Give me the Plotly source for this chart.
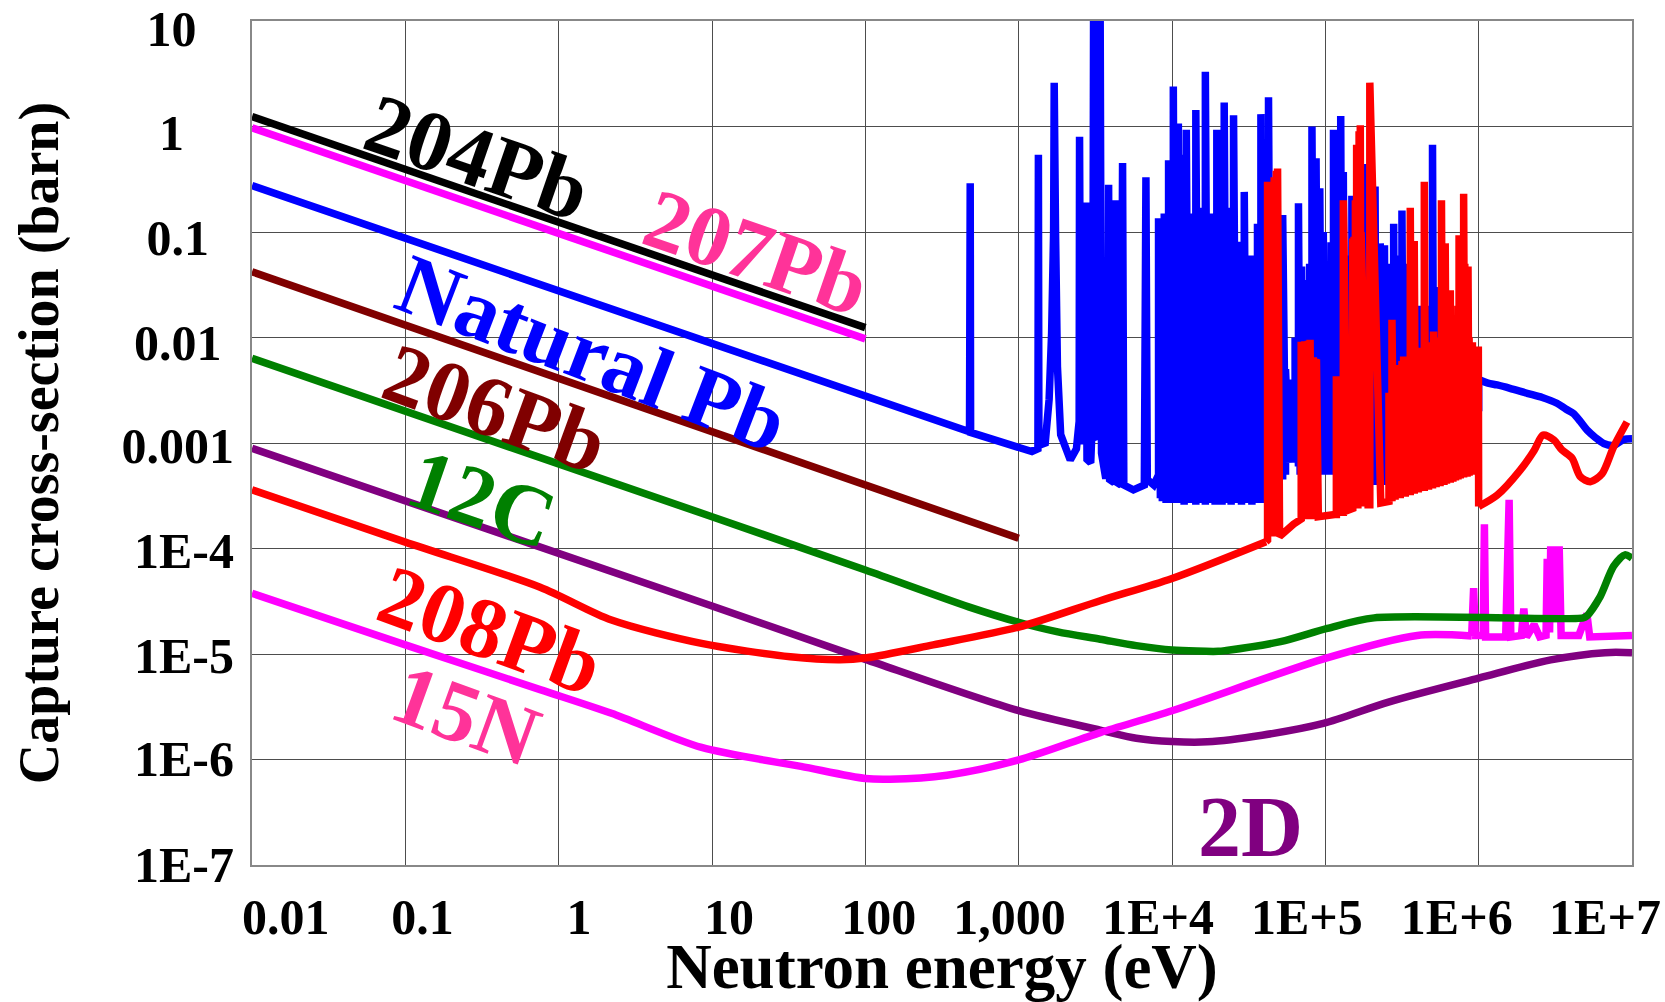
import plotly.graph_objects as go

# ---------------- data ----------------
# energies in eV, capture cross-sections in barn
pb204_E = [0.01, 100]
pb204_xs = [1.24, 0.0124]

pb207_E = [0.01, 100]
pb207_xs = [0.97, 0.0097]

pb206_E = [0.01, 1000]
pb206_xs = [0.042, 0.000125]

# natural Pb: 1/v part and isolated resonances
natpb_low = [
    (0.01, 0.275), (478, 0.00128),
    (483, 0.29), (486, 0.00126), (1220, 0.00083),
    (1335, 0.00088), (1345, 0.54), (1355, 0.00095),
    (1490, 0.0010), (1580, 0.0026), (1640, 0.011), (1690, 0.10), (1705, 2.6),
    (1740, 0.098), (1790, 0.0053), (1880, 0.0012), (2170, 0.00069), (2380, 0.00088),
    (2480, 0.0016), (2495, 0.80), (2540, 0.0012),
    (2680, 0.0010), (2740, 0.19), (2790, 0.0007),
    (2950, 0.00065), (3040, 0.002), (3080, 12), (3130, 0.0012), (3300, 0.0011),
    (3400, 12), (3470, 0.0008), (3700, 0.00046),
    (3820, 0.0006), (3860, 0.28), (3920, 0.00045),
    (4200, 0.00042), (4310, 0.20), (4400, 0.00042),
    (4650, 0.0004), (4760, 0.45), (4850, 0.0004), (5600, 0.00036),
    (6600, 0.0004), (6760, 0.33), (6900, 0.00045), (7600, 0.00040),
]
# natural Pb resonance forest: energy, peak, valley
natpb_forest_E = [
    8170, 8400, 8650, 8900, 9150, 9500, 9800, 10200, 10450, 10700, 11000, 11300,
    11600, 12000, 12400, 12800, 13200, 13700, 14300, 14800, 15300, 15900, 16500,
    17100, 17700, 18200, 18700, 19100, 19600, 20100, 20600, 21200, 21900, 22600,
    23400, 24300, 25200, 26200, 27200, 28400, 29600, 30600, 31600, 32400, 33200,
    34600, 36100, 37000, 38000, 38800, 39500, 41000, 42600, 44000,
    46000, 48000, 50000, 52700, 55000, 58000, 61000, 63500, 66800, 68500, 70000,
    71500, 73000, 75000, 77000, 79000, 81800, 84000, 87000, 89500, 92000, 94500,
    97000, 100000, 103000, 106000, 109000, 113000, 116000, 119000, 122000, 126000,
    128500, 131000, 134000, 137000, 140000, 143000, 146000, 149000, 152000, 156000,
    160000, 164000, 168000, 172000, 176000, 179000, 182000, 186000, 190000, 195000,
    200000, 205000, 211000, 215000, 220000, 224000, 228000, 232000, 237000, 243000,
    248000, 254000, 260000, 266000, 272000, 279000, 285000, 292000, 299000, 307000,
    316000, 323000, 330000, 340000, 350000, 360000, 368000, 376000, 385000, 395000,
    405000, 420000, 435000, 450000, 470000, 485000, 500000, 510000, 520000, 540000,
    560000, 580000, 600000, 620000, 640000, 660000, 690000, 720000, 750000, 780000,
    810000, 840000, 870000, 900000, 930000, 960000, 990000,
]
natpb_forest_peak = [
    0.135, 0.03, 0.02, 0.15, 0.04, 0.48, 0.05, 2.4, 0.06, 0.04, 1.07, 0.05,
    0.54, 0.06, 0.93, 0.05, 0.15, 0.04, 1.43, 0.06, 0.17, 0.05, 3.3,
    0.06, 0.15, 0.05, 0.12, 0.04, 0.93, 0.05, 0.14, 0.04, 1.69, 0.05,
    0.17, 0.04, 1.28, 0.05, 0.081, 0.03, 0.24, 0.02, 0.04, 0.02, 0.06,
    0.02, 0.12, 0.05, 1.31, 0.05, 0.2, 0.04, 1.89, 0.01,
    0.02, 0.01, 0.03, 0.145, 0.005, 0.003, 0.004, 0.01, 0.187, 0.03, 0.047,
    0.02, 0.035, 0.02, 0.03, 0.05, 1.0, 0.05, 0.5, 0.04, 0.26, 0.05,
    0.1, 0.03, 0.04, 0.05, 0.08, 0.93, 0.06, 0.1, 0.08, 1.26,
    0.1, 0.37, 0.05, 0.03, 0.04, 0.05, 0.06, 0.22, 0.04, 0.03,
    0.05, 0.03, 0.02, 0.04, 0.05, 0.1, 0.44, 0.05, 0.08, 0.05,
    0.03, 0.05, 0.27, 0.06, 0.04, 0.06, 0.078, 0.04, 0.05, 0.075,
    0.03, 0.02, 0.03, 0.04, 0.05, 0.12, 0.04, 0.03, 0.05, 0.06,
    0.16, 0.03, 0.02, 0.03, 0.05, 0.02, 0.01, 0.011, 0.012, 0.01,
    0.015, 0.02, 0.01, 0.008, 0.01, 0.02, 0.67, 0.02, 0.03, 0.01,
    0.01, 0.008, 0.01, 0.012, 0.02, 0.008, 0.006, 0.005, 0.005, 0.004,
    0.004, 0.005, 0.004, 0.003, 0.004, 0.003, 0.003,
]
natpb_forest_valley = [
    0.0005, 0.0003, 0.00028, 0.0003, 0.00027, 0.0003, 0.00028, 0.00027, 0.0003, 0.00028, 0.00027, 0.0003,
    0.00028, 0.00026, 0.00028, 0.0003, 0.00027, 0.00028, 0.00026, 0.0003, 0.00027, 0.00028, 0.00026,
    0.0003, 0.00027, 0.00028, 0.0003, 0.00026, 0.00028, 0.0003, 0.00027, 0.00026, 0.00028, 0.0003,
    0.00027, 0.00026, 0.00028, 0.0003, 0.00027, 0.00026, 0.00028, 0.0003, 0.00027, 0.00028, 0.00026,
    0.0003, 0.00027, 0.00028, 0.0003, 0.00027, 0.00028, 0.0003, 0.00028, 0.00035,
    0.00045, 0.0004, 0.0004, 0.00045, 0.0005, 0.00065, 0.0007, 0.00065, 0.0006, 0.0005, 0.0006,
    0.0005, 0.0006, 0.0005, 0.0005, 0.0006, 0.0005, 0.0006, 0.0005, 0.0006, 0.0005, 0.0006,
    0.0005, 0.0005, 0.0006, 0.0005, 0.0005, 0.0005, 0.0006, 0.0005, 0.0005, 0.0005,
    0.0006, 0.0005, 0.00045, 0.0005, 0.00045, 0.0005, 0.00045, 0.0005, 0.00045, 0.0005,
    0.00045, 0.0005, 0.00045, 0.0005, 0.00045, 0.0005, 0.00045, 0.0005, 0.00045, 0.0005,
    0.00045, 0.0004, 0.00045, 0.0004, 0.00042, 0.0004, 0.00045, 0.0004, 0.00042, 0.0004,
    0.00042, 0.0004, 0.00042, 0.0004, 0.00042, 0.0004, 0.00042, 0.0004, 0.00042, 0.0004,
    0.00042, 0.0004, 0.00042, 0.0004, 0.00042, 0.0004, 0.00042, 0.0004, 0.00042, 0.0004,
    0.00045, 0.0004, 0.00045, 0.0004, 0.00045, 0.0005, 0.00045, 0.0005, 0.00045, 0.0005,
    0.0005, 0.00055, 0.0005, 0.00055, 0.0005, 0.00055, 0.0006, 0.00055, 0.0006, 0.00055,
    0.0006, 0.00055, 0.0006, 0.0006, 0.00065, 0.0006, 0.0007,
]
natpb_high_E = [1.0e6, 1.15e6, 1.32e6, 1.6e6, 2.07e6, 2.6e6, 3.24e6, 3.7e6, 4.16e6,
                4.6e6, 5.08e6, 5.8e6, 6.53e6, 7.59e6, 8.83e6, 1.0e7]
natpb_high_xs = [0.0040, 0.0037, 0.00355, 0.0033, 0.00296, 0.0027, 0.00238, 0.0021, 0.0019,
                 0.0016, 0.00133, 0.00112, 0.00099, 0.00095, 0.00108, 0.0011]

# 208Pb
pb208_smooth_E = [0.01, 0.1, 0.757, 2.21, 8.55, 32.4, 68.5, 102, 277, 1000, 3400, 10000, 41000]
pb208_smooth_xs = [3.6e-4, 1.15e-4, 4.3e-5, 2.1e-5, 1.26e-5, 9.4e-6, 8.8e-6, 9.2e-6,
                   1.22e-5, 1.8e-5, 3.2e-5, 5.2e-5, 1.16e-4]
pb208_forest_E = [
    42000, 43400, 44900, 46400, 47900, 48800, 50300, 62000, 69600, 71500, 73500,
    75500, 77500, 79500, 81500, 83500, 85500, 87500, 90000, 115000, 118000, 128000,
    131000, 140000, 151000, 154000, 157000, 160000, 163000, 166000, 169000, 171000,
    190000, 195000, 230000, 260000, 272000, 280000, 285000, 292000, 300000, 308000,
    316000, 324000, 332000, 340000, 349000, 358000, 366000, 373000, 380000, 388000,
    396000, 404000, 413000, 422000, 431000, 442000, 451000, 461000, 471000, 481000,
    491000, 500000, 508000, 518000, 528000, 538000, 549000, 560000, 572000, 583000,
    594000, 605000, 617000, 629000, 641000, 653000, 666000, 679000, 692000, 706000,
    720000, 733000, 745000, 758000, 771000, 785000, 798000, 812000, 826000, 840000,
    852000, 866000, 880000, 895000, 910000, 925000, 940000, 955000, 970000, 985000,
    995000,
]
pb208_forest_peak = [
    0.30, 0.28, 0.30, 0.33, 0.38, 0.40, 1.3e-4, 1.7e-4, 0.0091, 0.009, 0.0092,
    0.009, 0.0093, 0.0095, 0.006, 0.0065, 0.0063, 0.0062, 2.0e-4, 2.1e-4, 0.0043, 2.2e-4,
    0.20, 2.3e-4, 0.087, 0.09, 0.2, 0.67, 0.6, 0.9, 1.03, 0.1,
    2.6e-4, 2.6, 2.7e-4, 0.003, 0.0147, 0.003, 0.0055, 0.004, 0.005, 0.004,
    0.006, 0.0066, 0.005, 0.005, 0.006, 0.17, 0.006, 0.006, 0.082, 0.007,
    0.008, 0.008, 0.007, 0.006, 0.008, 0.30, 0.008, 0.007, 0.006, 0.005,
    0.007, 0.009, 0.0114, 0.009, 0.007, 0.008, 0.009, 0.01, 0.20, 0.012,
    0.008, 0.078, 0.01, 0.012, 0.01, 0.028, 0.012, 0.01, 0.009, 0.011,
    0.012, 0.02, 0.093, 0.03, 0.012, 0.05, 0.23, 0.05, 0.02, 0.015,
    0.047, 0.01, 0.008, 0.008, 0.009, 0.0082, 0.007, 0.006, 0.007, 0.006,
    0.0082,
]
pb208_forest_valley = [
    1.2e-4, 1.3e-4, 1.3e-4, 1.3e-4, 1.3e-4, 1.3e-4, 1.3e-4, 1.7e-4, 1.9e-4, 1.9e-4, 1.9e-4,
    1.9e-4, 1.9e-4, 1.9e-4, 1.9e-4, 1.9e-4, 1.9e-4, 1.9e-4, 2.0e-4, 2.1e-4, 2.1e-4, 2.2e-4,
    2.2e-4, 2.3e-4, 2.4e-4, 2.4e-4, 2.4e-4, 2.4e-4, 2.4e-4, 2.5e-4, 2.5e-4, 2.5e-4,
    2.6e-4, 2.6e-4, 2.7e-4, 2.8e-4, 2.8e-4, 2.9e-4, 2.9e-4, 3.0e-4, 3.0e-4, 3.0e-4,
    3.1e-4, 3.1e-4, 3.1e-4, 3.2e-4, 3.2e-4, 3.2e-4, 3.3e-4, 3.3e-4, 3.3e-4, 3.4e-4,
    3.4e-4, 3.4e-4, 3.5e-4, 3.5e-4, 3.5e-4, 3.5e-4, 3.6e-4, 3.6e-4, 3.6e-4, 3.7e-4,
    3.7e-4, 3.7e-4, 3.8e-4, 3.8e-4, 3.8e-4, 3.9e-4, 3.9e-4, 3.9e-4, 4.0e-4, 4.0e-4,
    4.0e-4, 4.1e-4, 4.1e-4, 4.2e-4, 4.2e-4, 4.2e-4, 4.3e-4, 4.3e-4, 4.4e-4, 4.4e-4,
    4.5e-4, 4.5e-4, 4.6e-4, 4.6e-4, 4.7e-4, 4.7e-4, 4.7e-4, 4.8e-4, 4.8e-4, 4.8e-4,
    4.9e-4, 4.9e-4, 5.0e-4, 5.0e-4, 5.0e-4, 5.0e-4, 5.0e-4, 5.0e-4, 5.0e-4, 5.0e-4,
    5.0e-4,
]
pb208_high_E = [1.0e6, 1.32e6, 1.86e6, 2.3e6, 2.63e6, 3.09e6, 3.49e6, 4.06e6, 4.6e6,
                5.35e6, 6.37e6, 7.59e6, 9.27e6]
pb208_high_xs = [2.5e-4, 3.2e-4, 5.5e-4, 8.5e-4, 1.19e-3, 1.07e-3, 8.6e-4, 7.2e-4, 4.8e-4,
                 4.3e-4, 5.1e-4, 9.2e-4, 1.58e-3]

c12_E = [0.01, 10, 100, 472, 1000, 1800, 3400, 5850, 10000, 20000, 22600, 51000,
         103000, 208000, 4.8e6, 5.08e6, 6.2e6, 7.59e6, 9.0e6, 1.0e7]
c12_xs = [6.35e-3, 2.0e-4, 6.25e-5, 2.8e-5, 2.0e-5, 1.62e-5, 1.38e-5, 1.2e-5, 1.09e-5,
          1.06e-5, 1.08e-5, 1.31e-5, 1.75e-5, 2.2e-5, 2.2e-5, 2.3e-5, 3.5e-5, 6.8e-5,
          8.7e-5, 8.1e-5]

d2_E = [0.01, 10, 100, 1000, 3400, 5850, 10000, 17000, 38700, 97000, 258000, 1.0e6,
        2.95e6, 6.65e6, 1.0e7]
d2_xs = [8.9e-4, 2.85e-5, 8.9e-6, 2.9e-6, 1.9e-6, 1.59e-6, 1.48e-6, 1.47e-6, 1.7e-6,
         2.2e-6, 3.5e-6, 5.9e-6, 8.8e-6, 1.03e-5, 1.03e-5]

n15_smooth_E = [0.01, 0.1, 0.757, 2.21, 8.55, 38, 100, 145, 340, 1000, 3400, 10000,
                100000, 398000, 900000]
n15_smooth_xs = [3.76e-5, 1.22e-5, 4.6e-6, 2.74e-6, 1.3e-6, 8.6e-7, 6.6e-7, 6.5e-7,
                 7.1e-7, 9.9e-7, 1.8e-6, 2.9e-6, 9.1e-6, 1.5e-5, 1.48e-5]
n15_res = [
    (900000, 1.48e-5), (927000, 4.2e-5), (950000, 1.5e-5), (1.07e6, 1.5e-5),
    (1.09e6, 1.7e-4), (1.11e6, 1.45e-5), (1.5e6, 1.45e-5), (1.58e6, 2.9e-4),
    (1.62e6, 1.45e-5), (1.9e6, 1.5e-5), (1.97e6, 2.7e-5), (2.05e6, 1.45e-5),
    (2.3e6, 1.9e-5), (2.5e6, 1.45e-5), (2.75e6, 1.5e-5), (2.8e6, 8e-5), (2.9e6, 1.6e-5),
    (2.95e6, 1.05e-4), (3.05e6, 2e-5), (3.15e6, 1.05e-4), (3.25e6, 2e-5),
    (3.35e6, 1.05e-4), (3.45e6, 1.5e-5), (4.5e6, 1.5e-5), (5.08e6, 2.4e-5),
    (5.3e6, 1.45e-5), (1.0e7, 1.5e-5),
]

y_gridvals = [10, 1, 0.1, 0.01, 0.001, 1e-4, 1e-5, 1e-6, 1e-7]
y_ticktext = ["10", "1", "0.1", "0.01", "0.001", "1E-4", "1E-5", "1E-6", "1E-7"]
# where the reference prints those labels (log10 of cross-section)
y_label_log = [0.931, -0.057, -1.052, -2.047, -3.026, -4.022, -5.017, -5.995, -6.991]
x_gridvals = [0.01, 0.1, 1, 10, 100, 1000, 1e4, 1e5, 1e6, 1e7]
x_ticktext = ["0.01", "0.1", "1", "10", "100", "1,000", "1E+4", "1E+5", "1E+6", "1E+7"]
# where the reference prints those labels (log10 of energy)
x_label_log = [-1.78, -0.888, 0.133, 1.111, 2.087, 2.941, 3.909, 4.880, 5.857, 6.824]

# series labels: text, colour, centre in pixels, angle
labels = [
    ("204Pb", "#000000", 477, 157, 19),
    ("207Pb", "#FF3399", 756, 252, 19),
    ("Natural Pb", "#0000FF", 592, 353, 21),
    ("206Pb", "#800000", 495, 408, 20),
    ("12C", "#008000", 482, 499, 19),
    ("208Pb", "#FF0000", 490, 630, 20),
    ("15N", "#FF3399", 466, 715, 20),
    ("2D", "#800080", 1250, 827, 0),
]

# ---------------- figure ----------------
W, H = 1665, 1002
L, R, T, B = 252, 33, 21, 137
FONT = "Liberation Serif"
LW = 7.5

fig = go.Figure()


def add(E, xs, color, shape="linear", xaxis="x", yaxis="y"):
    line = dict(color=color, width=LW, shape=shape, simplify=False)
    if shape == "spline":
        line["smoothing"] = 0.8
    fig.add_trace(go.Scatter(x=E, y=xs, mode="lines", xaxis=xaxis, yaxis=yaxis,
                             line=line, showlegend=False, hoverinfo="skip"))


def forest(E, peak, valley):
    xs, ys = [], []
    for e, p, v in zip(E, peak, valley):
        xs += [e, e]
        ys += [v, p]
    return xs, ys


nat_E = [p[0] for p in natpb_low]
nat_xs = [p[1] for p in natpb_low]
fe, fy = forest(natpb_forest_E, natpb_forest_peak, natpb_forest_valley)
nat_E += fe + [1.0e6, 1.0e6]
nat_xs += fy + [0.0020, 0.0040]

r_fe, r_fy = forest(pb208_forest_E, pb208_forest_peak, pb208_forest_valley)
r_fe += [1.0e6]
r_fy += [2.5e-4]

add(pb207_E, pb207_xs, "#FF00FF")
add(nat_E, nat_xs, "#0000FF")
add(natpb_high_E, natpb_high_xs, "#0000FF", "spline")
add(d2_E, d2_xs, "#800080", "spline")
add(n15_smooth_E, n15_smooth_xs, "#FF00FF", "spline")
add([p[0] for p in n15_res], [p[1] for p in n15_res], "#FF00FF")
add(c12_E, c12_xs, "#008000", "spline")
add(pb208_smooth_E, pb208_smooth_xs, "#FF0000", "spline")
add([41000] + r_fe, [1.16e-4] + r_fy, "#FF0000")
add(pb208_high_E, pb208_high_xs, "#FF0000", "spline")
add(pb206_E, pb206_xs, "#800000", yaxis="y2")
add(pb204_E, pb204_xs, "#000000", xaxis="x2")

pad_map = {"10": 3, "1": 4, "0.1": 2, "0.01": 1}
y_text = [t + "\u00a0" * pad_map.get(t, 0) for t in y_ticktext]

tick_font = dict(family=FONT, size=50, color="black", weight="bold")
grid = dict(ticks="", showgrid=True, gridcolor="#4d4d4d", gridwidth=1,
            showline=True, linecolor="#888888", linewidth=2, mirror=True,
            zeroline=False, automargin=False, showticklabels=False)
labels_only = dict(ticks="", showgrid=False, showline=False, zeroline=False,
                   automargin=False, ticklabeloverflow="allow", tickfont=tick_font)

fig.update_layout(
    width=W, height=H,
    margin=dict(l=L, r=R, t=T, b=B, pad=0, autoexpand=False),
    paper_bgcolor="white", plot_bgcolor="white",
    font=dict(family=FONT, color="black"),
    xaxis=dict(type="log", range=[-2, 7], tickvals=x_gridvals, **grid),
    yaxis=dict(type="log", range=[-7, 1], tickvals=y_gridvals, **grid),
    xaxis2=dict(type="log", range=[-2, 7], overlaying="x", side="bottom", anchor="y",
                tickvals=[10 ** v for v in x_label_log], ticktext=x_ticktext,
                ticklabelstandoff=18, **labels_only,
                title=dict(text="Neutron energy (eV)", standoff=9,
                           font=dict(family=FONT, size=63, color="black", weight="bold"))),
    yaxis2=dict(type="log", range=[-7, 1], overlaying="y", side="left", anchor="x",
                tickvals=[10 ** v for v in y_label_log], ticktext=y_text,
                ticklabelstandoff=17, **labels_only,
                title=dict(text="Capture cross-section (barn)", standoff=44,
                           font=dict(family=FONT, size=56, color="black", weight="bold"))),
)

pw, ph = W - L - R, H - T - B
for text, color, px, py, ang in labels:
    fig.add_annotation(text=text, xref="paper", yref="paper",
                       x=(px - L) / pw, y=(H - B - py) / ph,
                       xanchor="center", yanchor="middle", showarrow=False,
                       textangle=ang,
                       font=dict(family=FONT, size=86, color=color, weight="bold"))

fig.write_html("out.html")
